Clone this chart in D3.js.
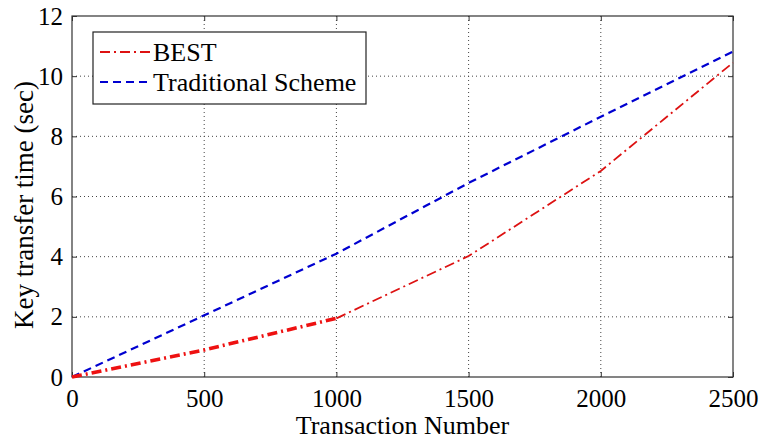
<!DOCTYPE html>
<html>
<head>
<meta charset="utf-8">
<script src="https://cdn.jsdelivr.net/npm/d3@7"></script>
<style>
  body { margin: 0; background: #fff; }
  text { font-family: "Liberation Serif", "DejaVu Serif", serif; fill: #000; }
</style>
</head>
<body>
<svg id="chart" width="761" height="441"></svg>
<script>
// chart data
var transactions = [0, 500, 1000, 1500, 2000, 2500];
var bestTime = [0, 0.9, 1.95, 4.02, 6.85, 10.45];
var traditionalTime = [0, 2.05, 4.1, 6.45, 8.65, 10.82];
var xTicks = [0, 500, 1000, 1500, 2000, 2500];
var yTicks = [0, 2, 4, 6, 8, 10, 12];
var seriesNames = ["BEST", "Traditional Scheme"];

var margin = {top: 16, right: 28, bottom: 64, left: 72},
    width = 761 - margin.left - margin.right,
    height = 441 - margin.top - margin.bottom;

var svg = d3.select("#chart");
var g = svg.append("g")
    .attr("transform", "translate(" + margin.left + "," + margin.top + ")");

var x = d3.scaleLinear().domain([0, 2500]).range([0, width]);
var y = d3.scaleLinear().domain([0, 12]).range([height, 0]);

// dotted grid
g.selectAll(".vgrid")
    .data(xTicks.slice(1, -1))
  .enter().append("line")
    .attr("x1", d => x(d)).attr("x2", d => x(d))
    .attr("y1", 0).attr("y2", height)
    .attr("stroke", "#444").attr("stroke-width", 1)
    .attr("stroke-dasharray", "1,3");
g.selectAll(".hgrid")
    .data(yTicks.slice(1, -1))
  .enter().append("line")
    .attr("x1", 0).attr("x2", width)
    .attr("y1", d => y(d)).attr("y2", d => y(d))
    .attr("stroke", "#444").attr("stroke-width", 1)
    .attr("stroke-dasharray", "1,3");

// axes with inward ticks, matlab style
function styleAxis(sel) {
    sel.attr("font-family", "Liberation Serif").attr("font-size", 25);
    sel.select(".domain").remove();
    sel.selectAll(".tick line").attr("stroke", "#333");
    sel.selectAll("text").attr("fill", "#000");
}

g.append("g")
    .attr("transform", "translate(0," + height + ")")
    .call(d3.axisBottom(x).tickValues(xTicks).tickSize(-5).tickPadding(12).tickFormat(d3.format("d")))
    .call(styleAxis);
g.append("g")
    .call(d3.axisTop(x).tickValues(xTicks).tickSize(-5).tickFormat(""))
    .call(styleAxis);
g.append("g")
    .call(d3.axisLeft(y).tickValues(yTicks).tickSize(-5).tickPadding(9))
    .call(styleAxis);
g.append("g")
    .attr("transform", "translate(" + width + ",0)")
    .call(d3.axisRight(y).tickValues(yTicks).tickSize(-5).tickFormat(""))
    .call(styleAxis);

g.append("rect")
    .attr("width", width).attr("height", height)
    .attr("fill", "none").attr("stroke", "#333").attr("stroke-width", 1.2);

// lines
var line = d3.line()
    .x(d => x(d[0]))
    .y(d => y(d[1]));

var bestPts = transactions.map((t, i) => [t, bestTime[i]]);
var tradPts = transactions.map((t, i) => [t, traditionalTime[i]]);

g.append("path")
    .datum(tradPts)
    .attr("d", line)
    .attr("fill", "none").attr("stroke", "#0000d0")
    .attr("stroke-width", 2.2)
    .attr("stroke-dasharray", "8,5");

g.append("path")
    .datum(bestPts.filter(d => d[0] >= 1000))
    .attr("d", line)
    .attr("fill", "none").attr("stroke", "#dd1111")
    .attr("stroke-width", 1.8)
    .attr("stroke-dasharray", "10,4,2,4");

g.append("path")
    .datum(bestPts.filter(d => d[0] <= 1000))
    .attr("d", line)
    .attr("fill", "none").attr("stroke", "#ee1111")
    .attr("stroke-width", 3.6)
    .attr("stroke-dasharray", "10,4,2,4");

// axis titles
svg.append("text")
    .attr("x", margin.left + width / 2)
    .attr("y", 434)
    .attr("text-anchor", "middle")
    .style("font-size", "26px")
    .text("Transaction Number");

svg.append("text")
    .attr("transform", "translate(33,205) rotate(-90)")
    .attr("text-anchor", "middle")
    .style("font-size", "27px")
    .text("Key transfer time (sec)");

// legend
var legend = svg.append("g").attr("transform", "translate(93,32)");
legend.append("rect")
    .attr("width", 273).attr("height", 72)
    .attr("fill", "#fff").attr("stroke", "#222").attr("stroke-width", 1.2);

var legendStyles = [
    {color: "#dd1111", dash: "10,4,2,4"},
    {color: "#0000d0", dash: "8,5"}
];
seriesNames.forEach(function(name, i) {
    var ly = 20 + i * 30;
    legend.append("line")
        .attr("x1", 7).attr("x2", 59)
        .attr("y1", ly).attr("y2", ly)
        .attr("stroke", legendStyles[i].color)
        .attr("stroke-width", 2)
        .attr("stroke-dasharray", legendStyles[i].dash);
    legend.append("text")
        .attr("x", 60).attr("y", ly + 9)
        .style("font-size", "26px")
        .text(name);
});
</script>
</body>
</html>
